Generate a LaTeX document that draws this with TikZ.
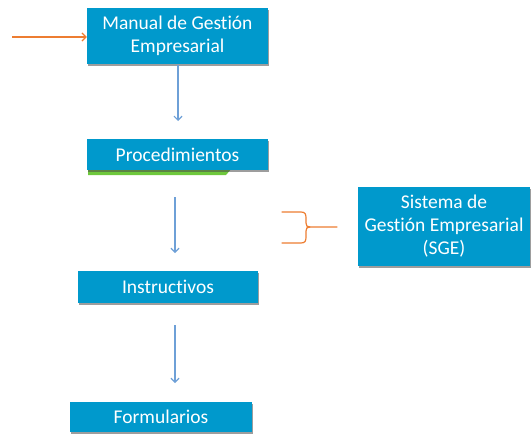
\documentclass[tikz,border=0pt]{standalone}
\usepackage{fontspec}
\setmainfont[Ligatures={NoCommon}]{Carlito}
\usetikzlibrary{arrows.meta,shadows}
\definecolor{boxblue}{RGB}{0,153,204}
\definecolor{arrblue}{RGB}{110,160,215}
\definecolor{orangeline}{RGB}{237,125,49}
\definecolor{greenstrip}{RGB}{110,200,60}
\begin{document}
\begin{tikzpicture}[x=1pt,y=-1pt,
  box/.style={rectangle, fill=boxblue, text=white, align=center,
    inner sep=0pt, font=\fontsize{19.5}{23}\selectfont,
    drop shadow={shadow xshift=1pt, shadow yshift=-2pt, opacity=0.55, fill=black!70}},
  arr/.style={draw=arrblue, line width=1.2pt, -{Straight Barb[length=4pt,width=8pt]}},
  oarr/.style={draw=orangeline, line width=1.2pt, -{Straight Barb[length=4pt,width=8pt]}},
  brace/.style={draw=orangeline, line width=1.2pt, line cap=round, line join=round}]
\useasboundingbox (0,0) rectangle (532,434);
% green strip under Procedimientos
\fill[greenstrip] (88,168) -- (232,168) -- (226,175) -- (88,175) -- cycle;
\node[box, minimum width=181pt, minimum height=56pt] (b1) at (177.5,36) {Manual de Gestión\\Empresarial};
\node[box, minimum width=181pt, minimum height=31pt] (b2) at (177.5,154.5) {Procedimientos};
\node[box, minimum width=180pt, minimum height=32pt] (b3) at (168,287) {Instructivos};
\node[box, minimum width=182pt, minimum height=30pt] (b4) at (161,417) {Formularios};
\node[box, minimum width=172pt, minimum height=79pt] (b5) at (444,226.5) {Sistema de\\Gestión Empresarial\\(SGE)};
% connectors
\coordinate (o1) at (12,37);
\draw[oarr] (o1) -- (b1.west |- o1);
\coordinate (a1s) at (178,65);
\coordinate (a1e) at (178,121);
\draw[arr] (a1s) -- (a1e);
\coordinate (a2s) at (175,197);
\coordinate (a2e) at (175,253);
\draw[arr] (a2s) -- (a2e);
\coordinate (a3s) at (175,325);
\coordinate (a3e) at (175,383);
\draw[arr] (a3s) -- (a3e);
% brace
\coordinate (bt) at (282,212);
\coordinate (bb) at (282,243);
\coordinate (bm) at (337,227);
\draw[brace] (bt) -- (301,212) .. controls (305,212) and (306,214) .. (306,218)
  -- (306,223) .. controls (306,226) and (307,227) .. (310,227) -- (bm);
\draw[brace] (310,227) .. controls (307,227) and (306,228) .. (306,231)
  -- (306,237) .. controls (306,241) and (305,243) .. (301,243) -- (bb);
\end{tikzpicture}
\end{document}
